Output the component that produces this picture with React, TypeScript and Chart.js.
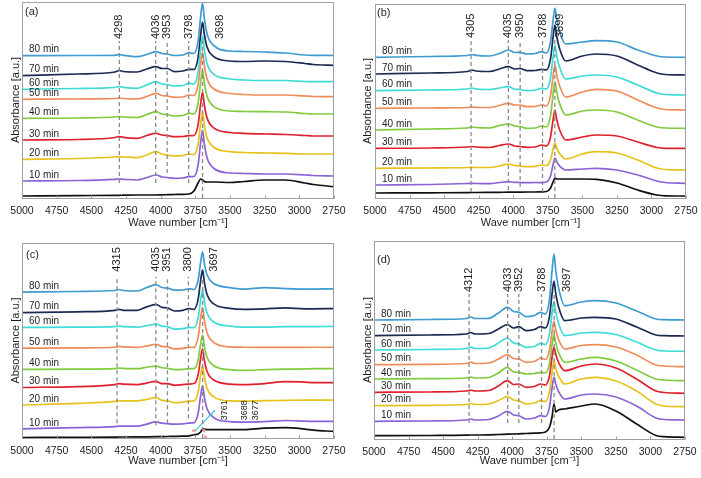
import React, { useEffect, useRef } from 'react';
import { Chart, registerables } from 'chart.js';

Chart.register(...registerables);

// ---------------- data ----------------
// wavenumber grid (cm^-1) shared by all spectra
const WAVENUMBERS = [5000, 4600, 4330, 4300, 4270, 4170, 4100, 4035, 3990, 3952, 3900, 3840, 3795, 3760, 3730, 3712, 3698, 3685, 3665, 3620, 3500, 3400, 3250, 3100, 2960, 2900, 2750];

const TIME_LABELS = ['10 min', '20 min', '30 min', '40 min', '50 min', '60 min', '70 min', '80 min'];
const SERIES_NAMES = ['reference', ...TIME_LABELS];
const SERIES_COLORS = ['#111111', '#8b63d6', '#e6c21a', '#e0202c', '#80cc3c', '#ee8c5a', '#3edcd6', '#1c2a52', '#3f9bd0'];
const X_TICK_STEP = 250;

// panel (a) – absorbance (a.u., stacked)
const A_REF = [2, 2.3, 2.7, 2.7, 2.8, 3, 3, 3, 3.2, 3.3, 3.5, 3.7, 4, 7, 15, 19, 18, 16.5, 16, 16, 15.5, 16.5, 18, 18, 15, 13.5, 11.3];
const A_10 = [17, 17.5, 18.7, 19, 18.7, 18, 20.5, 23, 21, 20.5, 19.7, 20, 21.3, 21.5, 33, 55, 68, 54, 40, 30, 25, 24.5, 24, 24, 23, 22.5, 22];
const A_20 = [38.7, 39.5, 41, 41.3, 41, 40.3, 43, 46.3, 44, 43, 42, 42.5, 44, 43.5, 54, 74, 86, 73, 60, 51, 46.3, 45.5, 45, 44.7, 44, 44, 44];
const A_30 = [58, 58.5, 60.5, 61.5, 60.7, 59.7, 62.5, 64.7, 63, 62.5, 61.3, 61.5, 62.3, 62.5, 73.4, 93.8, 106, 93, 79.7, 70.4, 65.5, 64.7, 64, 63.5, 62.5, 62, 62];
const A_40 = [79.7, 80, 81, 81.5, 81, 80.5, 83.5, 86.3, 84, 83.5, 82, 82.5, 84.7, 84, 95, 115.7, 128, 114.9, 101.4, 91.9, 87, 86.5, 86.3, 86, 84.5, 84, 84];
const A_50 = [98.7, 99, 99.5, 100, 99.5, 99, 101.5, 104.7, 102.5, 102, 100.7, 101, 103, 102.5, 113.4, 133.8, 146, 132.7, 119, 109.5, 104.5, 103.5, 103, 103, 102, 101.5, 101.3];
const A_60 = [108.7, 109.5, 110.5, 111.5, 110.7, 109.7, 113, 116.3, 114, 113.5, 112, 112.5, 114.7, 114, 126, 148.6, 162, 148.2, 134, 124.2, 119, 118, 117.5, 117.5, 116.5, 116.3, 116.3];
const A_70 = [122.3, 124, 126, 127.5, 126.5, 126, 129, 131.3, 129.5, 129.5, 126.3, 127, 128.7, 128.5, 140.4, 162.7, 176, 163.5, 150.7, 141.7, 137, 136.5, 137, 136.5, 134.5, 133.5, 132.7];
const A_80 = [142.3, 142.5, 142.7, 143.5, 142.7, 141.3, 143.5, 146.3, 144.5, 144, 142.5, 143, 145.3, 144.5, 157.1, 180.9, 195, 179.6, 163.8, 152.8, 147, 146.5, 146, 145, 143, 142.7, 142.5];
const A_PEAKS = [4298, 4036, 3953, 3798, 3698];

// panel (b)
const B_REF = [5, 5.2, 5.4, 5.5, 5.5, 5.6, 5.7, 5.8, 5.8, 5.9, 6, 6, 6.2, 6.5, 10, 16, 20, 19, 19, 19, 19, 18.7, 15, 8, 3, 2.2, 2];
const B_10 = [13, 13.5, 14.5, 14.7, 14.5, 14.3, 15.5, 16.3, 15.7, 15.5, 15.3, 15.5, 15.3, 16, 22, 33.3, 40, 36.2, 32.2, 28, 29, 29.7, 28, 23, 17, 15.5, 14.7];
const B_20 = [29.7, 30, 30.5, 30.7, 30.5, 30.5, 32, 34, 32.5, 32, 31.3, 31.7, 33, 32.5, 38.1, 48.7, 55, 49.9, 44.6, 39, 44, 46.3, 45, 38, 30, 28.5, 28];
const B_30 = [49.7, 50, 51, 51.5, 51, 50.5, 52.5, 54, 52, 51.5, 50.7, 51, 53, 52, 61, 77.9, 88, 78.4, 68.5, 58, 61, 63, 62, 56, 50.5, 49.7, 49.7];
const B_40 = [68, 69, 70, 71, 70.5, 70, 72.5, 74, 72, 71.5, 69.7, 70, 72, 71, 82.3, 103.4, 116, 105.4, 94.6, 83, 87, 88, 86, 78, 71, 70, 69.7];
const B_50 = [89.7, 90, 90.5, 91, 90.7, 90.5, 92.5, 94.7, 93, 93, 91.3, 91.5, 93, 92, 102.3, 121.5, 133, 122.8, 112.2, 101, 106, 108.7, 107, 98, 90, 88.5, 88];
const B_60 = [107.3, 108, 109, 110, 109, 108.5, 110, 111.3, 109, 108.5, 107.3, 108, 109.7, 109, 120, 140.7, 153, 142.1, 130.9, 119, 122, 123, 121, 113, 105, 103.5, 103];
const B_70 = [124, 125, 126.5, 128, 127, 126.5, 129, 131.3, 129, 129.5, 127.3, 127.5, 128.7, 128, 139.3, 160.4, 173, 161.5, 149.6, 137, 142, 144, 142, 133, 125, 123.5, 123];
const B_80 = [140.7, 141.5, 142.5, 143.5, 142.7, 142, 144.5, 148, 145.5, 145.7, 144, 144.5, 146.3, 145, 156.3, 177.4, 190, 178.5, 166.6, 154, 156, 157.3, 156, 148, 142, 141, 140.7];
const B_PEAKS = [4305, 4035, 3950, 3788, 3699];

// panel (c)
const C_REF = [0.5, 0.7, 0.9, 1, 1, 1.1, 1.2, 1.3, 1.4, 1.5, 1.6, 1.8, 2.2, 3.3, 4, 6, 9, 9, 8.5, 8.5, 8.5, 8.5, 10, 10.5, 9, 8, 6.7];
const C_10 = [9.3, 10.5, 11.5, 12, 12, 12, 14, 16.3, 15, 14.5, 14, 14.3, 15, 15.5, 24.9, 42.5, 53, 41.3, 29.3, 20.9, 16.5, 16, 16.5, 17.7, 17, 16.8, 16.7];
const C_20 = [33.3, 35, 37, 37.7, 37.5, 37.5, 39, 40.7, 38, 37.5, 35.7, 36.3, 37.3, 37.5, 46.4, 63.1, 73, 61.6, 49.9, 41.8, 37.5, 37.3, 37.7, 38, 38.3, 38.3, 38.3];
const C_30 = [51, 52, 54, 55, 54.5, 54, 55.5, 57.3, 55, 55, 53.3, 54, 54.5, 55, 63.8, 80.2, 90, 78.6, 66.9, 58.8, 54.5, 54, 55, 57, 56.5, 56, 56];
const C_40 = [69.3, 69.5, 70, 70.7, 70.3, 70, 71.5, 72.7, 71, 70.5, 69, 69.3, 70, 70, 78.5, 94.5, 104, 92.8, 81.3, 73.2, 69, 68.3, 69, 69.5, 69.8, 70, 70];
const C_50 = [90.7, 91, 91.7, 92.5, 92, 91.5, 93, 94.5, 92.5, 92, 90, 90.5, 91.7, 91.5, 101.6, 120.7, 132, 119.2, 106, 96.8, 92, 91.7, 91.5, 91.5, 91.5, 91.7, 91.7];
const C_60 = [111.7, 112, 112.5, 113, 112.5, 112, 113.5, 115, 113, 112.5, 110, 110.5, 111.7, 111.5, 121.1, 139.2, 150, 138.2, 126, 117.4, 113, 112, 112, 112.5, 112.5, 112.5, 112.7];
const C_70 = [126.7, 127.5, 129, 130, 129, 129, 132.5, 135, 132, 131.5, 128.3, 129, 130.7, 130, 140, 158.8, 170, 157.5, 144.7, 135.7, 131, 130, 130.5, 131.5, 130.5, 130.5, 130.7];
const C_80 = [147.3, 148, 149, 150, 149, 148.5, 152, 155, 152, 151.5, 149.3, 149.5, 150.7, 150, 159.5, 177.4, 188, 176.5, 164.6, 156.3, 152, 150.5, 152, 151, 150.5, 150.5, 150.7];
const C_PEAKS = [4315, 4035, 3951, 3800, 3697];
const C_REF_PEAKS = [3761, 3688, 3677];

// panel (d)
const D_REF = [3.3, 3.5, 3.8, 4, 4, 4.2, 4.5, 4.8, 5, 5.2, 5.5, 5.8, 6.2, 7, 12, 22, 35, 27, 29, 30, 33, 35, 28, 15, 3.5, 2.3, 1.7];
const D_10 = [17.7, 18, 19, 20, 19, 19.5, 23, 27.7, 24, 23.3, 20, 21, 23.3, 22.5, 32.4, 51, 62, 55, 47.7, 40, 44, 45, 42, 33, 21, 19.5, 19];
const D_20 = [33.3, 33.7, 34.5, 35.5, 34.5, 35, 38.5, 42.3, 39, 38.3, 35, 36, 38.3, 37.5, 47.6, 66.7, 78, 70.6, 63, 55, 60, 61.7, 58, 48, 35, 33, 32.3];
const D_30 = [46.7, 47, 48, 49, 48, 48.5, 53, 58.3, 54.5, 55, 51.7, 52.5, 55, 54, 63.5, 81.4, 92, 84.4, 76.6, 68.3, 73, 75, 71, 60, 48, 46.5, 45.7];
const D_40 = [60, 60.3, 61, 62, 61, 61.5, 66, 71.7, 67, 66.7, 65, 65.5, 66.7, 66, 75.8, 94.1, 105, 95.9, 86.6, 76.7, 80, 81.7, 78, 69, 60, 59, 58.3];
const D_50 = [74.3, 74.7, 75.5, 77, 75.5, 76, 80, 84.3, 80.5, 80, 76.7, 77.5, 81, 79.5, 89.1, 107.2, 118, 109, 99.8, 90, 93.5, 94.3, 92, 84, 74, 73, 72.3];
const D_60 = [89, 89.5, 90.5, 92, 90.5, 91, 96, 101, 96, 95, 91.7, 92.5, 95.7, 94.5, 105.4, 125.8, 138, 126.9, 115.4, 103.3, 106, 106.7, 104.5, 97, 89, 88, 87.7];
const D_70 = [103.3, 104, 105, 106.5, 105, 105.5, 110, 114.3, 111, 112.3, 108.3, 109.5, 112.3, 111, 122.8, 144.8, 158, 145.3, 132.2, 118.3, 121, 121.7, 120, 112, 104, 103.3, 103];
const D_80 = [119, 119.5, 120.5, 122, 120.5, 120.7, 126, 131.7, 127.5, 126.7, 122.3, 123.5, 126.7, 125, 140, 168.2, 185, 168.5, 151.4, 133.3, 137, 138.3, 136, 128, 120, 119.3, 119];
const D_PEAKS = [4312, 4033, 3952, 3788, 3697];

// ---------------- layout / styles ----------------
const FONT = '"Liberation Sans", Arial, Helvetica, sans-serif';
const TEXT = '#1e1e1e';
const FRAME = '#9aa0a8';

type PanelDef = {
  letter: string;
  series: number[][];
  peaks: number[];
  left: number; top: number; w: number; h: number;
  padTop: number; padRight: number; yAxisW: number; xAxisH: number;
  yMax: number; yTitlePad: number; xTitlePad: number;
  lineHi: number; lineLo: number[]; labelBottom: number; mainLabelShift: number;
  letterDx: number; letterDy: number;
  refPeaks?: number[];
};

const PANELS: PanelDef[] = [
  {
    letter: '(a)', series: [A_REF, A_10, A_20, A_30, A_40, A_50, A_60, A_70, A_80], peaks: A_PEAKS,
    left: 0, top: 0, w: 350, h: 238, padTop: 2, padRight: 16, yAxisW: 22, xAxisH: 40,
    yMax: 196, yTitlePad: 9.5, xTitlePad: 8, lineHi: 157, lineLo: [15, 15, 25, 15, 0], labelBottom: 159, mainLabelShift: 17,
    letterDx: 3, letterDy: 10,
  },
  {
    letter: '(b)', series: [B_REF, B_10, B_20, B_30, B_40, B_50, B_60, B_70, B_80], peaks: B_PEAKS,
    left: 350, top: 0, w: 351, h: 238, padTop: 4, padRight: 15, yAxisW: 25, xAxisH: 40,
    yMax: 194, yTitlePad: 11, xTitlePad: 8, lineHi: 158, lineLo: [6, 8, 11, 6, 0], labelBottom: 160, mainLabelShift: 5,
    letterDx: 2, letterDy: 9,
  },
  {
    letter: '(c)', series: [C_REF, C_10, C_20, C_30, C_40, C_50, C_60, C_70, C_80], peaks: C_PEAKS,
    left: 0, top: 238, w: 350, h: 238, padTop: 3, padRight: 16, yAxisW: 22, xAxisH: 38,
    yMax: 197, yTitlePad: 9.5, xTitlePad: 8, lineHi: 163, lineLo: [15, 13, 15, 20, 0], labelBottom: 168, mainLabelShift: 11,
    letterDx: 4, letterDy: 12, refPeaks: C_REF_PEAKS,
  },
  {
    letter: '(d)', series: [D_REF, D_10, D_20, D_30, D_40, D_50, D_60, D_70, D_80], peaks: D_PEAKS,
    left: 350, top: 238, w: 351, h: 238, padTop: 3, padRight: 16, yAxisW: 24, xAxisH: 37,
    yMax: 198, yTitlePad: 11, xTitlePad: 8, lineHi: 145, lineLo: [16, 16, 16, 16, 0], labelBottom: 147, mainLabelShift: 13,
    letterDx: 3, letterDy: 19,
  },
];

function makeDecor(p: PanelDef) {
  return {
    id: 'decor',
    afterDatasetsDraw(chart: any) {
      const { ctx, chartArea: ca } = chart;
      const xs = chart.scales.x;
      const ys = chart.scales.y;
      ctx.save();
      // frame
      ctx.strokeStyle = FRAME;
      ctx.lineWidth = 1;
      const bottom = Math.round(ca.bottom) + 0.5;
      ctx.strokeRect(Math.round(ca.left) + 0.5, Math.round(ca.top) + 0.5, Math.round(ca.width) - 1, Math.round(ca.bottom) - Math.round(ca.top));
      // inward tick marks at the x-axis ticks
      ctx.beginPath();
      xs.ticks.forEach((t: any) => {
        const xp = Math.round(xs.getPixelForValue(t.value)) + 0.5;
        ctx.moveTo(xp, bottom);
        ctx.lineTo(xp, bottom - 3);
      });
      ctx.stroke();
      ctx.fillStyle = TEXT;
      ctx.textAlign = 'left';
      ctx.textBaseline = 'middle';
      // panel letter
      ctx.font = `11px ${FONT}`;
      ctx.fillText(p.letter, ca.left + p.letterDx, ca.top + p.letterDy);
      // time labels, sitting on the start of each trace
      ctx.font = `10px ${FONT}`;
      TIME_LABELS.forEach((t, i) => {
        const s = p.series[i + 1];
        const xp = xs.getPixelForValue(WAVENUMBERS[0]) + 7;
        const yp = ys.getPixelForValue(s[0]) - 6;
        ctx.fillText(t, xp, yp);
      });
      // peak labels (rotated)
      ctx.font = `11px ${FONT}`;
      p.peaks.forEach((w, i) => {
        const shift = i === p.peaks.length - 1 ? p.mainLabelShift : 0;
        ctx.save();
        ctx.translate(xs.getPixelForValue(w) + shift, ys.getPixelForValue(p.labelBottom));
        ctx.rotate(-Math.PI / 2);
        ctx.fillText(String(w), 0, 0);
        ctx.restore();
      });
      if (p.refPeaks) {
        ctx.font = `9px ${FONT}`;
        const xBase = [3536, 3392, 3313];
        p.refPeaks.forEach((w, i) => {
          ctx.save();
          ctx.translate(xs.getPixelForValue(xBase[i]), ys.getPixelForValue(18));
          ctx.rotate(-Math.PI / 2);
          ctx.fillText(String(w), 0, 0);
          ctx.restore();
        });
      }
      ctx.restore();
    },
  };
}

function PanelChart({ panel }: { panel: PanelDef }) {
  const ref = useRef<HTMLCanvasElement>(null);
  useEffect(() => {
    const p = panel;
    const datasets: any[] = [];
    p.peaks.forEach((w, i) => {
      datasets.push({
        label: `peak ${w}`,
        data: [{ x: w, y: p.lineLo[i] }, { x: w, y: p.lineHi }],
        borderColor: '#8a8a8a', borderWidth: 1.3, borderDash: [4, 3],
        pointRadius: 0, fill: false, tension: 0, order: -2,
      });
    });
    if (p.refPeaks) {
      datasets.push({
        label: 'pointer',
        data: [{ x: 3753, y: 7 }, { x: 3609, y: 28 }],
        borderColor: '#3cc6d6', borderWidth: 1.2, pointRadius: 0, fill: false, tension: 0, order: -1,
      });
      datasets.push({
        type: 'scatter',
        label: 'ref marks',
        data: [{ x: p.refPeaks[0], y: 7.3 }, { x: p.refPeaks[1], y: 7.3 }, { x: p.refPeaks[2], y: 0.8 }],
        backgroundColor: '#f2a2a2', borderColor: '#f2a2a2', pointStyle: 'rect', pointRadius: 1.5, order: -1,
      });
    }
    p.series.forEach((vals, i) => {
      datasets.push({
        label: SERIES_NAMES[i],
        data: WAVENUMBERS.map((w, j) => ({ x: w, y: vals[j] })),
        borderColor: SERIES_COLORS[i], borderWidth: 1.7,
        pointRadius: 0, fill: false, cubicInterpolationMode: 'monotone', order: i,
      });
    });
    const chart = new Chart(ref.current!, {
      type: 'line',
      data: { datasets },
      plugins: [makeDecor(p)],
      options: {
        responsive: false,
        animation: false,
        events: [],
        layout: { padding: { top: p.padTop, right: p.padRight, left: 0, bottom: 0 } },
        plugins: { legend: { display: false }, tooltip: { enabled: false } },
        scales: {
          x: {
            type: 'linear', position: 'bottom', reverse: true, min: 2750, max: 5000,
            // outward tick space kept transparent; visible ticks are drawn inward by the decor plugin
            grid: { display: true, drawOnChartArea: false, drawTicks: true, tickLength: 4.5, color: 'rgba(0,0,0,0)' },
            border: { display: false },
            ticks: {
              stepSize: X_TICK_STEP, autoSkip: false, maxRotation: 0, padding: 2, color: TEXT,
              font: { family: FONT, size: 10.5 },
              callback: (v: any) => String(v),
            },
            title: { display: true, text: 'Wave number [cm\u207B\u00B9]', color: TEXT, font: { family: FONT, size: 11 }, padding: { top: 0, bottom: p.xTitlePad } },
            afterFit: (s: any) => { s.height = p.xAxisH; },
          },
          y: {
            type: 'linear', position: 'left', min: 0, max: p.yMax,
            grid: { display: false }, border: { display: false },
            ticks: { display: false },
            title: { display: true, text: 'Absorbance [a.u.]', color: TEXT, font: { family: FONT, size: 11 }, padding: { top: p.yTitlePad, bottom: 0 } },
            afterFit: (s: any) => { s.width = p.yAxisW; },
          },
        },
      } as any,
    });
    return () => chart.destroy();
  }, [panel]);
  return (
    <canvas
      ref={ref}
      width={panel.w}
      height={panel.h}
      style={{ position: 'absolute', left: panel.left, top: panel.top, width: panel.w, height: panel.h }}
    />
  );
}

export default function App() {
  return (
    <div style={{ position: 'absolute', left: 0, top: 0, width: 701, height: 478, background: '#ffffff', overflow: 'hidden' }}>
      {PANELS.map((p) => <PanelChart key={p.letter} panel={p} />)}
    </div>
  );
}
